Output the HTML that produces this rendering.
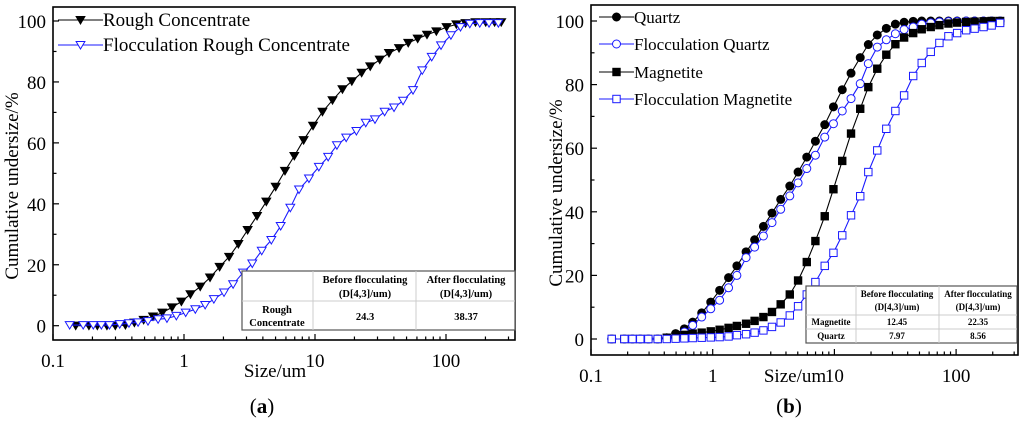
<!DOCTYPE html>
<html><head><meta charset="utf-8"><style>
html,body{margin:0;padding:0;background:#fff;width:1024px;height:423px;overflow:hidden}
svg{display:block}
text{font-family:"Liberation Serif","DejaVu Serif",serif}
</style></head><body>
<svg id="fig" width="1024" height="423" viewBox="0 0 1024 423"></svg>
<script>
// ---- Panel (a) data ----
const aRoughX=[0.149,0.188,0.218,0.258,0.299,0.357,0.418,0.492,0.580,0.683,0.810,0.955,1.12,1.33,1.58,1.87,2.21,2.60,3.06,3.61,4.25,5.01,5.90,6.95,8.19,9.66,11.4,13.6,16.2,19.1,22.7,26.4,31.2,36.7,43.8,51.5,60.8,71.6,84.4,101,120,141,168,201,235,264];
const aRoughY=[0,0,0,0,0,0.2,1,1.9,3,4.3,6,7.9,10.3,12.8,15.8,19.3,22.6,26.8,31.4,36,40.7,45.6,50.8,55.7,60.9,65.6,70.2,74,77.6,80.2,83,85.1,87.3,89.5,91.1,92.8,94.2,95.5,96.6,98,98.9,99.3,99.6,99.6,99.6,99.6];
const aFlocX=[0.134,0.170,0.203,0.234,0.270,0.323,0.380,0.446,0.531,0.634,0.741,0.874,1.03,1.22,1.45,1.69,2.02,2.37,2.82,3.32,3.92,4.64,5.47,6.48,7.55,8.99,10.7,12.6,14.7,17.3,20.7,24.4,28.7,34.0,40.1,47.0,56.0,65.9,77.8,91.6,109,129,152,181,213,251];
const aFlocY=[0.2,0.2,0.2,0.2,0.2,0.5,0.8,1.1,1.5,2.1,2.4,3.2,4.3,5.4,6.8,8.7,10.9,13.6,17.4,20.4,24.6,28.1,32.7,38.7,44.7,48.3,52.1,55.4,59.2,61.7,63.9,66.6,67.7,70.2,71.6,73.8,77.3,83.8,88.2,92.0,95.3,98.0,99.1,99.3,99.3,99.3];
// ---- Panel (b) data ----
const bX=[0.148,0.188,0.219,0.254,0.296,0.353,0.419,0.496,0.585,0.685,0.812,0.964,1.14,1.35,1.58,1.88,2.21,2.61,3.07,3.62,4.30,5.03,5.93,6.98,8.33,9.82,11.6,13.7,16.3,19.0,22.5,26.7,31.7,37.4,44.4,52.2,61.9,72.9,86.5,102,121,142,168,196,230];
const bQuartz=[0,0,0,0,0,0,0.4,1.7,3.2,5.3,8.2,11.6,15.3,19.3,23.0,27.4,31.2,35.4,39.6,43.9,48.1,52.5,57.2,62.2,67.4,73.0,78.4,83.6,88.5,92.6,95.6,97.7,99.0,99.6,99.9,100,100,100,100,100,100,100,100,100,100];
const bFlocQuartz=[0,0,0,0,0,0,0.2,0.6,2.2,4.3,6.9,9.5,12.2,16.1,20,25.6,28.9,32.4,36.6,40.8,45.0,49.1,53.6,57.8,63.5,67.7,71.7,75.6,80.3,86.6,91.8,94.1,96.0,97.3,98.1,99.0,99.4,99.7,99.8,99.9,100,100,100,100,100];
const bMag=[0,0,0,0,0,0,0.4,0.8,1.3,1.7,2.0,2.4,2.9,3.5,4.1,4.8,5.7,6.9,8.5,10.9,14.0,18.4,24.2,30.8,38.6,47.1,56.0,64.6,72.4,79.2,85.0,89.4,92.7,94.8,96.2,97.4,98.1,98.7,99.2,99.5,99.7,99.8,99.9,100,100];
const bFlocMag=[0,0,0,0,0,0,0,0.1,0.2,0.3,0.4,0.5,0.6,0.8,1.2,1.5,2.0,2.7,3.8,5.2,7.4,10.3,14.0,17.9,23.0,27.1,32.6,38.9,44.9,52.5,59.3,66.1,71.7,76.6,82.7,86.8,90.3,93.1,95.2,96.2,97.1,97.6,98.1,98.6,99.4];
const yTicks=[0,20,40,60,80,100];
const xTickLabels=["0.1","1","10","100"];

const NS="http://www.w3.org/2000/svg";
const svg=document.getElementById('fig');
const FONT='"Liberation Serif","DejaVu Serif",serif';
function mk(tag,attrs,parent){const e=document.createElementNS(NS,tag);for(const k in attrs)e.setAttribute(k,attrs[k]);(parent||svg).appendChild(e);return e;}
function txt(s,attrs,parent){const e=mk('text',attrs,parent);e.setAttribute('font-family',FONT);e.style.fontFamily=FONT;e.textContent=s;return e;}

function panel(cfg){
  const g=mk('g',{});
  
  
  const X=v=>cfg.x0+(Math.log10(v)+1)*cfg.dec;
  const Y=v=>cfg.y0-(v/100)*(cfg.y0-cfg.y100);
  const fr=mk('rect',{x:cfg.L,y:cfg.T,width:cfg.R-cfg.L,height:cfg.B-cfg.T,fill:'none',stroke:'#000','stroke-width':1.6},g);
  
  
  for(let v=0;v<=100;v+=10){const y=Y(v);mk('line',{x1:cfg.L,x2:cfg.L+(v%20===0?6:3.5),y1:y,y2:y,stroke:'#000','stroke-width':1.2},g);}
  yTicks.forEach(v=>{const t=txt(String(v),{x:cfg.L-7,y:Y(v)+7,'text-anchor':'end','font-size':19},g);
    
    });
  for(let d=-1;d<=2;d++){for(let m=1;m<=9;m++){const v=m*Math.pow(10,d);const x=X(v);if(x>cfg.R-1)continue;
    mk('line',{x1:x,x2:x,y1:cfg.B,y2:cfg.B-(m===1?6:3.5),stroke:'#000','stroke-width':1.2},g);}}
  xTickLabels.forEach((s,i)=>{const t=txt(s,{x:X(parseFloat(s)),y:cfg.B+27,'text-anchor':'middle','font-size':19},g);
    
    });
  const yt=txt('Cumulative undersize/%',{x:0,y:0,'text-anchor':'middle','font-size':19,transform:`translate(${cfg.ytx},${cfg.yty}) rotate(-90)`},g);
  
  
  const xt=txt('Size/um',{x:cfg.xtx,y:cfg.xty,'text-anchor':'middle','font-size':19},g);
  
  
  const lab=txt('',{x:cfg.labx,y:413,'text-anchor':'middle','font-size':21},g);
  
  
  lab.innerHTML='(<tspan font-weight="bold">'+cfg.letter+'</tspan>)';
  return {g,X,Y};
}
function marker(kind,x,y,color,g){
  const s=4.4;
  if(kind==='tri') return mk('polygon',{points:`${x-s},${y-s*0.8} ${x+s},${y-s*0.8} ${x},${y+s*0.9}`,fill:color,stroke:color,'stroke-width':1},g);
  if(kind==='otri') return mk('polygon',{points:`${x-s},${y-s*0.8} ${x+s},${y-s*0.8} ${x},${y+s*0.9}`,fill:'#fff',stroke:color,'stroke-width':1},g);
  if(kind==='circ') return mk('circle',{cx:x,cy:y,r:4,fill:color,stroke:color,'stroke-width':1},g);
  if(kind==='ocirc') return mk('circle',{cx:x,cy:y,r:4,fill:'#fff',stroke:color,'stroke-width':1},g);
  if(kind==='sq') return mk('rect',{x:x-3.7,y:y-3.7,width:7.4,height:7.4,fill:color,stroke:color,'stroke-width':1},g);
  return mk('rect',{x:x-3.7,y:y-3.7,width:7.4,height:7.4,fill:'#fff',stroke:color,'stroke-width':1},g);
}
function series(p,xs,ys,kind,color,name){
  const g=mk('g',{},p.g);
  
  
  const d=xs.map((x,i)=>(i?'L':'M')+p.X(x).toFixed(1)+','+p.Y(ys[i]).toFixed(1)).join(' ');
  mk('path',{d,fill:'none',stroke:color,'stroke-width':1.1},g);
  xs.forEach((x,i)=>{const m=marker(kind,p.X(x),p.Y(ys[i]),color,g);
    
    });
}
function legend(p,x1,x2,y,kind,color,label,fs,name){
  const g=mk('g',{},p.g);
  
  
  mk('line',{x1,x2,y1:y,y2:y,stroke:color,'stroke-width':1.1},g);
  marker(kind,(x1+x2)/2,y,color,g);
  txt(label,{x:x2,y:y+6,'font-size':fs},g);
}
function table(p,x,y,w,h,cols,rows,header,data,name){
  const g=mk('g',{},p.g);
  
  
  mk('rect',{x,y,width:w,height:h,fill:'#fff',stroke:'#555','stroke-width':1.2},g);
  cols.forEach(c=>mk('line',{x1:c,x2:c,y1:y,y2:y+h,stroke:'#ccc','stroke-width':1},g));
  rows.forEach(r=>mk('line',{x1:x,x2:x+w,y1:r,y2:r,stroke:'#ccc','stroke-width':1},g));
  header(g);data(g);
}

const pa=panel({name:'chart-a',L:53,R:515,T:7,B:340,x0:53,dec:131,y0:325.7,y100:21,ytx:18,yty:186,xtx:275,xty:377,labx:262,letter:'a'});
series(pa,aRoughX,aRoughY,'tri','#000','series-rough-concentrate');
series(pa,aFlocX,aFlocY,'otri','#1a1aff','series-flocculation-rough-concentrate');
legend(pa,58,103,20,'tri','#000','Rough Concentrate',19,'legend-entry-rough');
legend(pa,58,103,45,'otri','#1a1aff','Flocculation Rough Concentrate',19,'legend-entry-flocculation-rough');
table(pa,242,271,273,59,[313,416],[301],g=>{
  const a={'font-size':10.5,'font-weight':'bold','text-anchor':'middle'};
  txt('Before flocculating',Object.assign({x:365,y:283},a),g);txt('(D[4,3]/um)',Object.assign({x:365,y:297},a),g);
  txt('After flocculating',Object.assign({x:466,y:283},a),g);txt('(D[4,3]/um)',Object.assign({x:466,y:297},a),g);
},g=>{
  const a={'font-size':10.5,'font-weight':'bold','text-anchor':'middle'};
  txt('Rough',Object.assign({x:277,y:313},a),g);txt('Concentrate',Object.assign({x:277,y:326},a),g);
  txt('24.3',Object.assign({x:365,y:320},a),g);txt('38.37',Object.assign({x:466,y:320},a),g);
},'inset-table-a');

const pb=panel({name:'chart-b',L:591,R:1018,T:5,B:355,x0:591,dec:121.7,y0:339,y100:21,ytx:562,yty:193,xtx:795,xty:382,labx:789,letter:'b'});
series(pb,bX,bQuartz,'circ','#000','series-quartz');
series(pb,bX,bFlocQuartz,'ocirc','#1a1aff','series-flocculation-quartz');
series(pb,bX,bMag,'sq','#000','series-magnetite');
series(pb,bX,bFlocMag,'osq','#1a1aff','series-flocculation-magnetite');
legend(pb,599,634,17,'circ','#000','Quartz',17,'legend-entry-quartz');
legend(pb,599,634,44,'ocirc','#1a1aff','Flocculation Quartz',17,'legend-entry-flocculation-quartz');
legend(pb,599,634,72,'sq','#000','Magnetite',17,'legend-entry-magnetite');
legend(pb,599,634,99,'osq','#1a1aff','Flocculation Magnetite',17,'legend-entry-flocculation-magnetite');
table(pb,806,286,211,57,[856,939],[315,329],g=>{
  const a={'font-size':9,'font-weight':'bold','text-anchor':'middle'};
  txt('Before flocculating',Object.assign({x:897,y:297},a),g);txt('(D[4,3]/um)',Object.assign({x:897,y:310},a),g);
  txt('After flocculating',Object.assign({x:978,y:297},a),g);txt('(D[4,3]/um)',Object.assign({x:978,y:310},a),g);
},g=>{
  const a={'font-size':9,'font-weight':'bold','text-anchor':'middle'};
  txt('Magnetite',Object.assign({x:831,y:325},a),g);txt('12.45',Object.assign({x:897,y:325},a),g);txt('22.35',Object.assign({x:978,y:325},a),g);
  txt('Quartz',Object.assign({x:831,y:339},a),g);txt('7.97',Object.assign({x:897,y:339},a),g);txt('8.56',Object.assign({x:978,y:339},a),g);
},'inset-table-b');
</script>
</body></html>
